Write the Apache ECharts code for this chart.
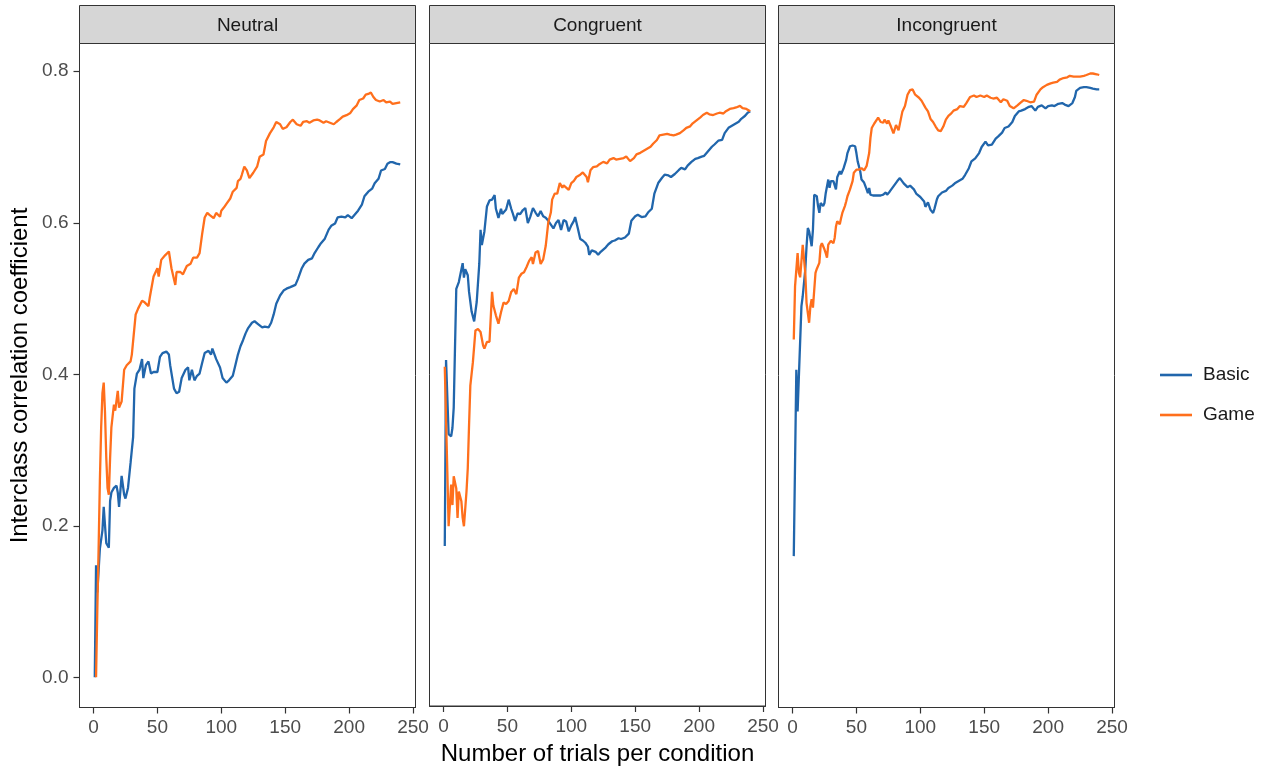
<!DOCTYPE html>
<html><head><meta charset="utf-8">
<script src="https://cdn.jsdelivr.net/npm/echarts@6/dist/echarts.min.js"></script>
<style>html,body{margin:0;padding:0;background:#fff}#c{width:1265px;height:771px}</style>
</head><body><div id="c"></div>
<script>
const panels = ['Neutral', 'Congruent', 'Incongruent'];
const seriesNames = ['Basic', 'Game'];
const xTicks = [0, 50, 100, 150, 200, 250];
const yTicks = [0, 0.2, 0.4, 0.6, 0.8];
const xTitle = 'Number of trials per condition';
const yTitle = 'Interclass correlation coefficient';

const neutralBasic = [[1,0.0],[2,0.148],[3,0.112],[5,0.17],[7,0.194],[8,0.225],[10,0.177],[12,0.171],[13,0.233],[14,0.244],[16,0.25],[18,0.253],[19,0.244],[20,0.225],[22,0.266],[24,0.241],[25,0.236],[27,0.25],[29,0.283],[31,0.317],[32,0.381],[34,0.401],[36,0.406],[38,0.42],[39,0.395],[41,0.412],[43,0.417],[45,0.401],[47,0.403],[50,0.403],[52,0.423],[54,0.428],[57,0.43],[59,0.426],[60,0.412],[63,0.381],[65,0.375],[67,0.377],[69,0.395],[72,0.406],[74,0.409],[75,0.392],[77,0.406],[79,0.392],[81,0.398],[83,0.401],[85,0.415],[87,0.428],[90,0.431],[92,0.426],[93,0.434],[96,0.42],[99,0.409],[101,0.395],[104,0.389],[106,0.392],[109,0.398],[111,0.412],[113,0.426],[115,0.437],[117,0.445],[119,0.454],[121,0.461],[124,0.468],[126,0.47],[129,0.466],[132,0.462],[134,0.463],[137,0.462],[139,0.468],[141,0.479],[143,0.493],[146,0.504],[149,0.511],[151,0.513],[154,0.515],[158,0.518],[160,0.526],[163,0.54],[165,0.546],[168,0.551],[171,0.553],[173,0.56],[176,0.568],[178,0.573],[181,0.579],[184,0.591],[186,0.596],[189,0.599],[191,0.607],[194,0.608],[197,0.607],[199,0.61],[202,0.606],[204,0.61],[207,0.616],[210,0.624],[212,0.635],[215,0.641],[218,0.645],[220,0.652],[223,0.658],[225,0.669],[228,0.671],[230,0.678],[232,0.68],[234,0.68],[237,0.678],[240,0.677]];
const neutralGame = [[2,0.0],[3,0.09],[4,0.17],[5,0.26],[6,0.33],[7,0.375],[8,0.389],[9,0.35],[10,0.29],[11,0.25],[12,0.241],[13,0.29],[14,0.33],[15,0.345],[16,0.36],[17,0.352],[19,0.378],[20,0.356],[22,0.364],[24,0.406],[26,0.412],[29,0.417],[30,0.426],[33,0.479],[35,0.487],[38,0.497],[40,0.495],[43,0.49],[44,0.501],[47,0.529],[50,0.54],[51,0.529],[53,0.551],[56,0.557],[59,0.562],[61,0.54],[64,0.518],[65,0.535],[68,0.535],[70,0.532],[73,0.543],[76,0.546],[78,0.554],[81,0.554],[83,0.56],[85,0.585],[87,0.607],[89,0.613],[91,0.61],[94,0.606],[96,0.613],[99,0.608],[100,0.616],[102,0.62],[104,0.625],[107,0.632],[109,0.641],[112,0.646],[113,0.655],[115,0.658],[116,0.663],[118,0.674],[120,0.669],[122,0.659],[125,0.666],[128,0.674],[130,0.687],[133,0.69],[135,0.708],[138,0.718],[141,0.726],[143,0.733],[146,0.73],[148,0.724],[151,0.726],[154,0.733],[156,0.736],[159,0.73],[162,0.728],[164,0.733],[167,0.734],[169,0.732],[172,0.735],[175,0.736],[177,0.735],[180,0.732],[182,0.734],[185,0.732],[188,0.73],[190,0.733],[193,0.737],[195,0.74],[198,0.742],[201,0.745],[203,0.75],[206,0.755],[208,0.762],[211,0.764],[213,0.769],[215,0.77],[217,0.772],[219,0.766],[221,0.762],[224,0.76],[227,0.762],[229,0.759],[232,0.76],[234,0.757],[237,0.758],[240,0.759]];
const congruentBasic = [[1,0.172],[2,0.418],[4,0.32],[6,0.317],[7,0.328],[8,0.355],[9,0.434],[10,0.512],[12,0.521],[15,0.546],[16,0.527],[17,0.538],[19,0.53],[20,0.508],[22,0.482],[24,0.469],[26,0.495],[28,0.545],[29,0.59],[30,0.57],[32,0.588],[34,0.621],[36,0.629],[38,0.63],[40,0.636],[41,0.618],[43,0.606],[45,0.618],[46,0.611],[49,0.617],[51,0.63],[53,0.618],[54,0.613],[56,0.602],[58,0.612],[60,0.611],[62,0.616],[64,0.619],[66,0.599],[68,0.608],[70,0.619],[72,0.613],[74,0.608],[76,0.615],[78,0.608],[80,0.606],[82,0.602],[84,0.597],[86,0.592],[88,0.599],[90,0.603],[92,0.59],[94,0.603],[96,0.601],[98,0.588],[100,0.596],[102,0.602],[103,0.607],[105,0.593],[107,0.578],[109,0.576],[111,0.573],[113,0.568],[114,0.557],[116,0.563],[117,0.565],[119,0.561],[121,0.557],[123,0.561],[125,0.564],[127,0.567],[129,0.571],[132,0.575],[134,0.576],[137,0.579],[139,0.578],[142,0.58],[145,0.585],[147,0.602],[150,0.608],[152,0.61],[155,0.607],[158,0.608],[160,0.613],[163,0.618],[165,0.638],[168,0.652],[171,0.659],[173,0.663],[176,0.662],[178,0.66],[181,0.664],[184,0.669],[186,0.672],[189,0.67],[191,0.675],[194,0.68],[197,0.684],[199,0.685],[202,0.687],[204,0.688],[207,0.694],[210,0.7],[212,0.703],[215,0.708],[218,0.709],[220,0.718],[223,0.725],[225,0.727],[228,0.73],[231,0.733],[233,0.737],[236,0.741],[238,0.745],[240,0.747]];
const congruentGame = [[1,0.409],[3,0.27],[4,0.198],[6,0.253],[7,0.226],[8,0.264],[10,0.248],[11,0.209],[12,0.244],[14,0.231],[15,0.209],[16,0.198],[18,0.244],[19,0.275],[20,0.332],[21,0.384],[23,0.415],[25,0.457],[27,0.459],[29,0.455],[31,0.437],[32,0.433],[34,0.442],[36,0.442],[38,0.508],[39,0.49],[41,0.477],[43,0.466],[45,0.481],[47,0.494],[49,0.492],[51,0.496],[53,0.508],[55,0.512],[57,0.505],[58,0.516],[59,0.527],[61,0.532],[63,0.534],[65,0.541],[67,0.549],[69,0.554],[70,0.545],[72,0.56],[74,0.562],[76,0.545],[78,0.551],[80,0.569],[82,0.6],[84,0.613],[85,0.63],[87,0.638],[89,0.638],[91,0.652],[93,0.646],[94,0.649],[96,0.646],[98,0.643],[100,0.652],[102,0.655],[104,0.66],[107,0.663],[109,0.666],[112,0.66],[113,0.653],[115,0.669],[117,0.673],[120,0.674],[122,0.677],[125,0.68],[128,0.678],[130,0.683],[133,0.685],[135,0.683],[138,0.684],[141,0.685],[143,0.687],[146,0.681],[149,0.685],[151,0.69],[154,0.692],[156,0.694],[159,0.697],[162,0.7],[164,0.704],[167,0.709],[169,0.715],[172,0.716],[175,0.717],[177,0.716],[180,0.715],[182,0.716],[185,0.718],[188,0.722],[190,0.725],[193,0.727],[195,0.731],[198,0.735],[201,0.739],[203,0.742],[206,0.745],[208,0.743],[211,0.742],[214,0.744],[216,0.745],[219,0.744],[221,0.747],[224,0.75],[227,0.751],[229,0.752],[232,0.754],[234,0.751],[237,0.75],[240,0.747]];
const incongruentBasic = [[1,0.16],[3,0.406],[4,0.351],[5,0.349],[7,0.49],[8,0.503],[10,0.538],[11,0.569],[12,0.593],[13,0.589],[15,0.569],[16,0.591],[17,0.637],[19,0.635],[20,0.622],[21,0.613],[22,0.626],[24,0.622],[25,0.626],[26,0.639],[28,0.657],[29,0.646],[30,0.655],[32,0.655],[33,0.657],[34,0.644],[35,0.66],[37,0.668],[38,0.664],[40,0.672],[42,0.683],[43,0.692],[45,0.701],[47,0.702],[49,0.701],[50,0.692],[51,0.681],[53,0.668],[54,0.657],[56,0.653],[58,0.644],[59,0.639],[60,0.646],[61,0.637],[63,0.636],[66,0.636],[69,0.636],[71,0.637],[73,0.64],[74,0.637],[76,0.641],[79,0.648],[82,0.655],[84,0.659],[87,0.652],[90,0.647],[92,0.649],[95,0.644],[97,0.638],[100,0.634],[103,0.628],[104,0.621],[106,0.627],[108,0.617],[110,0.613],[111,0.618],[113,0.631],[114,0.635],[117,0.64],[120,0.642],[122,0.646],[125,0.649],[127,0.652],[130,0.655],[133,0.658],[135,0.663],[138,0.672],[140,0.681],[143,0.685],[146,0.692],[148,0.7],[151,0.707],[153,0.702],[156,0.703],[159,0.711],[161,0.714],[164,0.719],[166,0.725],[169,0.727],[172,0.733],[174,0.741],[177,0.747],[179,0.748],[182,0.75],[185,0.753],[187,0.754],[190,0.748],[192,0.753],[195,0.755],[198,0.751],[200,0.754],[203,0.755],[205,0.754],[208,0.757],[211,0.758],[213,0.756],[216,0.754],[219,0.758],[221,0.766],[222,0.774],[225,0.778],[228,0.779],[230,0.779],[233,0.778],[235,0.777],[238,0.776],[240,0.776]];
const incongruentGame = [[1,0.446],[2,0.516],[4,0.56],[5,0.534],[6,0.528],[8,0.571],[10,0.534],[11,0.494],[13,0.468],[14,0.49],[15,0.499],[16,0.488],[18,0.534],[19,0.539],[21,0.547],[22,0.569],[23,0.573],[25,0.565],[26,0.56],[27,0.554],[28,0.571],[30,0.576],[32,0.573],[33,0.58],[34,0.595],[35,0.602],[37,0.598],[38,0.606],[39,0.613],[41,0.622],[42,0.628],[43,0.635],[45,0.644],[46,0.646],[47,0.655],[48,0.666],[50,0.67],[51,0.672],[52,0.67],[54,0.672],[56,0.669],[57,0.67],[58,0.675],[60,0.692],[61,0.712],[62,0.725],[64,0.731],[66,0.736],[67,0.739],[69,0.733],[71,0.732],[72,0.736],[74,0.731],[75,0.735],[77,0.727],[79,0.718],[81,0.729],[83,0.722],[84,0.722],[86,0.747],[88,0.754],[90,0.769],[92,0.775],[94,0.776],[96,0.769],[99,0.765],[101,0.761],[104,0.752],[106,0.747],[108,0.737],[110,0.733],[112,0.727],[114,0.722],[116,0.721],[118,0.727],[120,0.736],[122,0.741],[124,0.744],[126,0.748],[129,0.75],[131,0.754],[134,0.753],[136,0.758],[139,0.766],[142,0.768],[144,0.766],[147,0.768],[150,0.766],[152,0.768],[155,0.765],[157,0.764],[160,0.765],[163,0.759],[165,0.763],[168,0.761],[170,0.754],[173,0.751],[176,0.755],[178,0.758],[181,0.762],[183,0.761],[186,0.759],[189,0.76],[191,0.769],[194,0.776],[196,0.779],[199,0.782],[202,0.784],[204,0.785],[207,0.786],[209,0.789],[212,0.791],[215,0.792],[217,0.794],[220,0.793],[222,0.793],[225,0.793],[228,0.794],[230,0.795],[233,0.797],[235,0.797],[238,0.796],[240,0.795]];

const panelData = [[neutralBasic, neutralGame], [congruentBasic, congruentGame], [incongruentBasic, incongruentGame]];
const colors = ['#2166AC', '#FF6F1C'];
const FONT = "'Liberation Sans', Arial, Helvetica, sans-serif";
const gridLefts = [79.5, 429.5, 778.5];
const gridTop = 43.5, gridW = 336, gridH = 664;
const xMin = -10.95, xMax = 251.95, yMin = -0.0398, yMax = 0.8366;

const chart = echarts.init(document.getElementById('c'), null, {renderer: 'canvas'});
const grids = [], xAxes = [], yAxes = [], series = [], graphics = [];
panels.forEach((p, i) => {
  grids.push({left: gridLefts[i], top: gridTop, width: gridW, height: gridH, show: true,
    borderColor: '#333333', borderWidth: 1, backgroundColor: '#ffffff', containLabel: false});
  xAxes.push({type: 'value', gridIndex: i, min: xMin, max: xMax, position: 'bottom',
    axisLine: {show: true, onZero: false, lineStyle: {color: '#333333', width: 1}},
    axisTick: {show: true, length: 6, lineStyle: {color: '#333333', width: 1.2}, customValues: xTicks},
    axisLabel: {show: true, customValues: xTicks, color: '#4D4D4D', fontSize: 19, fontFamily: FONT, margin: 11},
    splitLine: {show: false},
    name: i === 1 ? xTitle : '', nameLocation: 'middle', nameGap: 36,
    nameTextStyle: {fontSize: 24, color: '#000000', fontFamily: FONT}});
  yAxes.push({type: 'value', gridIndex: i, min: yMin, max: yMax, position: 'left',
    axisLine: {show: i === 0, onZero: false, lineStyle: {color: '#333333', width: 1}},
    axisTick: {show: i === 0, length: 6, lineStyle: {color: '#333333', width: 1.2}, customValues: yTicks},
    axisLabel: {show: i === 0, customValues: yTicks, color: '#4D4D4D', fontSize: 19, fontFamily: FONT, margin: 11,
      formatter: v => v.toFixed(1)},
    splitLine: {show: false},
    name: i === 0 ? yTitle : '', nameLocation: 'middle', nameGap: 47, nameRotate: 90,
    nameTextStyle: {fontSize: 24, color: '#000000', fontFamily: FONT}});
  panelData[i].forEach((d, k) => {
    series.push({type: 'line', name: seriesNames[k], xAxisIndex: i, yAxisIndex: i, data: d,
      symbol: 'none', showSymbol: false, smooth: false, animation: false,
      lineStyle: {color: colors[k], width: 2.3}, itemStyle: {color: colors[k]}, z: 3});
  });
  graphics.push({type: 'rect', shape: {x: gridLefts[i], y: 5.5, width: gridW, height: gridTop - 5.5},
    style: {fill: '#D6D6D6', stroke: '#333333', lineWidth: 1}, z: 10});
  graphics.push({type: 'text', x: gridLefts[i] + gridW / 2, y: (5.5 + gridTop) / 2 + 1,
    style: {text: p, fill: '#1A1A1A', font: "19px 'Liberation Sans', Arial, sans-serif", textAlign: 'center', textVerticalAlign: 'middle'}, z: 11});
});

chart.setOption({
  animation: false,
  backgroundColor: '#ffffff',
  grid: grids, xAxis: xAxes, yAxis: yAxes, series: series,
  graphic: graphics,
  legend: {orient: 'vertical', left: 1155, top: 360, itemWidth: 32, itemHeight: 2.6, icon: 'rect', itemGap: 20,
    data: seriesNames, textStyle: {fontSize: 19, color: '#1A1A1A', fontFamily: FONT, lineHeight: 20, padding: [0, 0, 0, 6]}}
});
</script></body></html>
